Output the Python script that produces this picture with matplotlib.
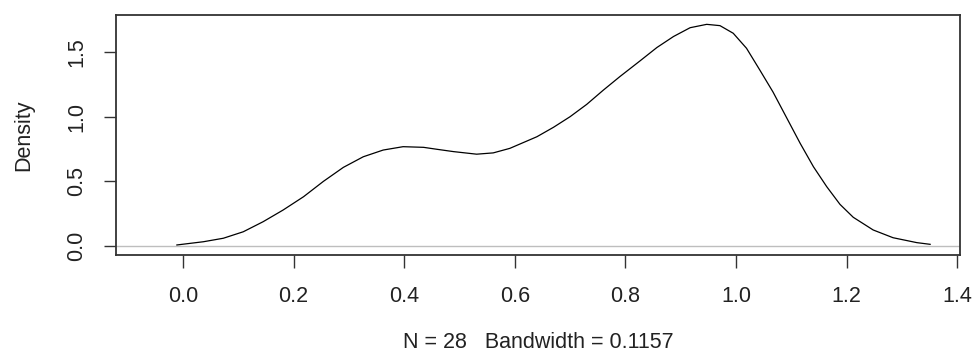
import matplotlib
matplotlib.use("Agg")
import matplotlib.pyplot as plt

# density curve (R density(), N = 28)
x_vals = [-0.011, 0.037, 0.073, 0.109, 0.145, 0.181, 0.218, 0.254, 0.290, 0.326,
          0.362, 0.398, 0.435, 0.459, 0.489, 0.531, 0.561, 0.591, 0.640, 0.670,
          0.700, 0.730, 0.760, 0.790, 0.826, 0.857, 0.887, 0.917, 0.947, 0.971,
          0.995, 1.019, 1.043, 1.067, 1.092, 1.116, 1.140, 1.164, 1.188, 1.212,
          1.248, 1.284, 1.327, 1.351]
density = [0.008, 0.033, 0.060, 0.110, 0.188, 0.278, 0.381, 0.500, 0.608, 0.690,
           0.742, 0.768, 0.763, 0.748, 0.730, 0.710, 0.720, 0.755, 0.845, 0.918,
           1.000, 1.095, 1.205, 1.310, 1.430, 1.535, 1.620, 1.688, 1.714, 1.704,
           1.645, 1.529, 1.361, 1.190, 0.988, 0.794, 0.613, 0.459, 0.322, 0.222,
           0.124, 0.064, 0.026, 0.013]

x_ticks = [0.0, 0.2, 0.4, 0.6, 0.8, 1.0, 1.2, 1.4]
y_ticks = [0.0, 0.5, 1.0, 1.5]
x_label = "N = 28   Bandwidth = 0.1157"
y_label = "Density"

plt.rcParams["font.family"] = ["Liberation Sans", "DejaVu Sans"]
plt.rcParams["font.size"] = 15.5

fig = plt.figure(figsize=(9.76, 3.58), dpi=100)
ax = fig.add_axes([0.1189, 0.2877, 0.8647, 0.6703])

ax.axhline(0, color="#bebebe", linewidth=1.0)
ax.plot(x_vals, density, color="black", linewidth=0.9)

ax.set_xlim(-0.121, 1.405)
ax.set_ylim(-0.0696, 1.786)
ax.set_xticks(x_ticks)
ax.set_xticklabels([f"{t:.1f}" for t in x_ticks])
ax.set_yticks(y_ticks)
ax.set_yticklabels([f"{t:.1f}" for t in y_ticks], rotation=90, va="center")

ax.tick_params(axis="both", length=9, width=1.0, color="#333333", labelcolor="#222222")
ax.tick_params(axis="x", pad=13.3)
ax.tick_params(axis="y", pad=11.6)
for spine in ax.spines.values():
    spine.set_linewidth(1.3)
    spine.set_color("#333333")

ax.set_xlabel(x_label, labelpad=18, color="#222222")
ax.set_ylabel(y_label, labelpad=23.5, color="#222222")

fig.savefig("out.png", dpi=100)
